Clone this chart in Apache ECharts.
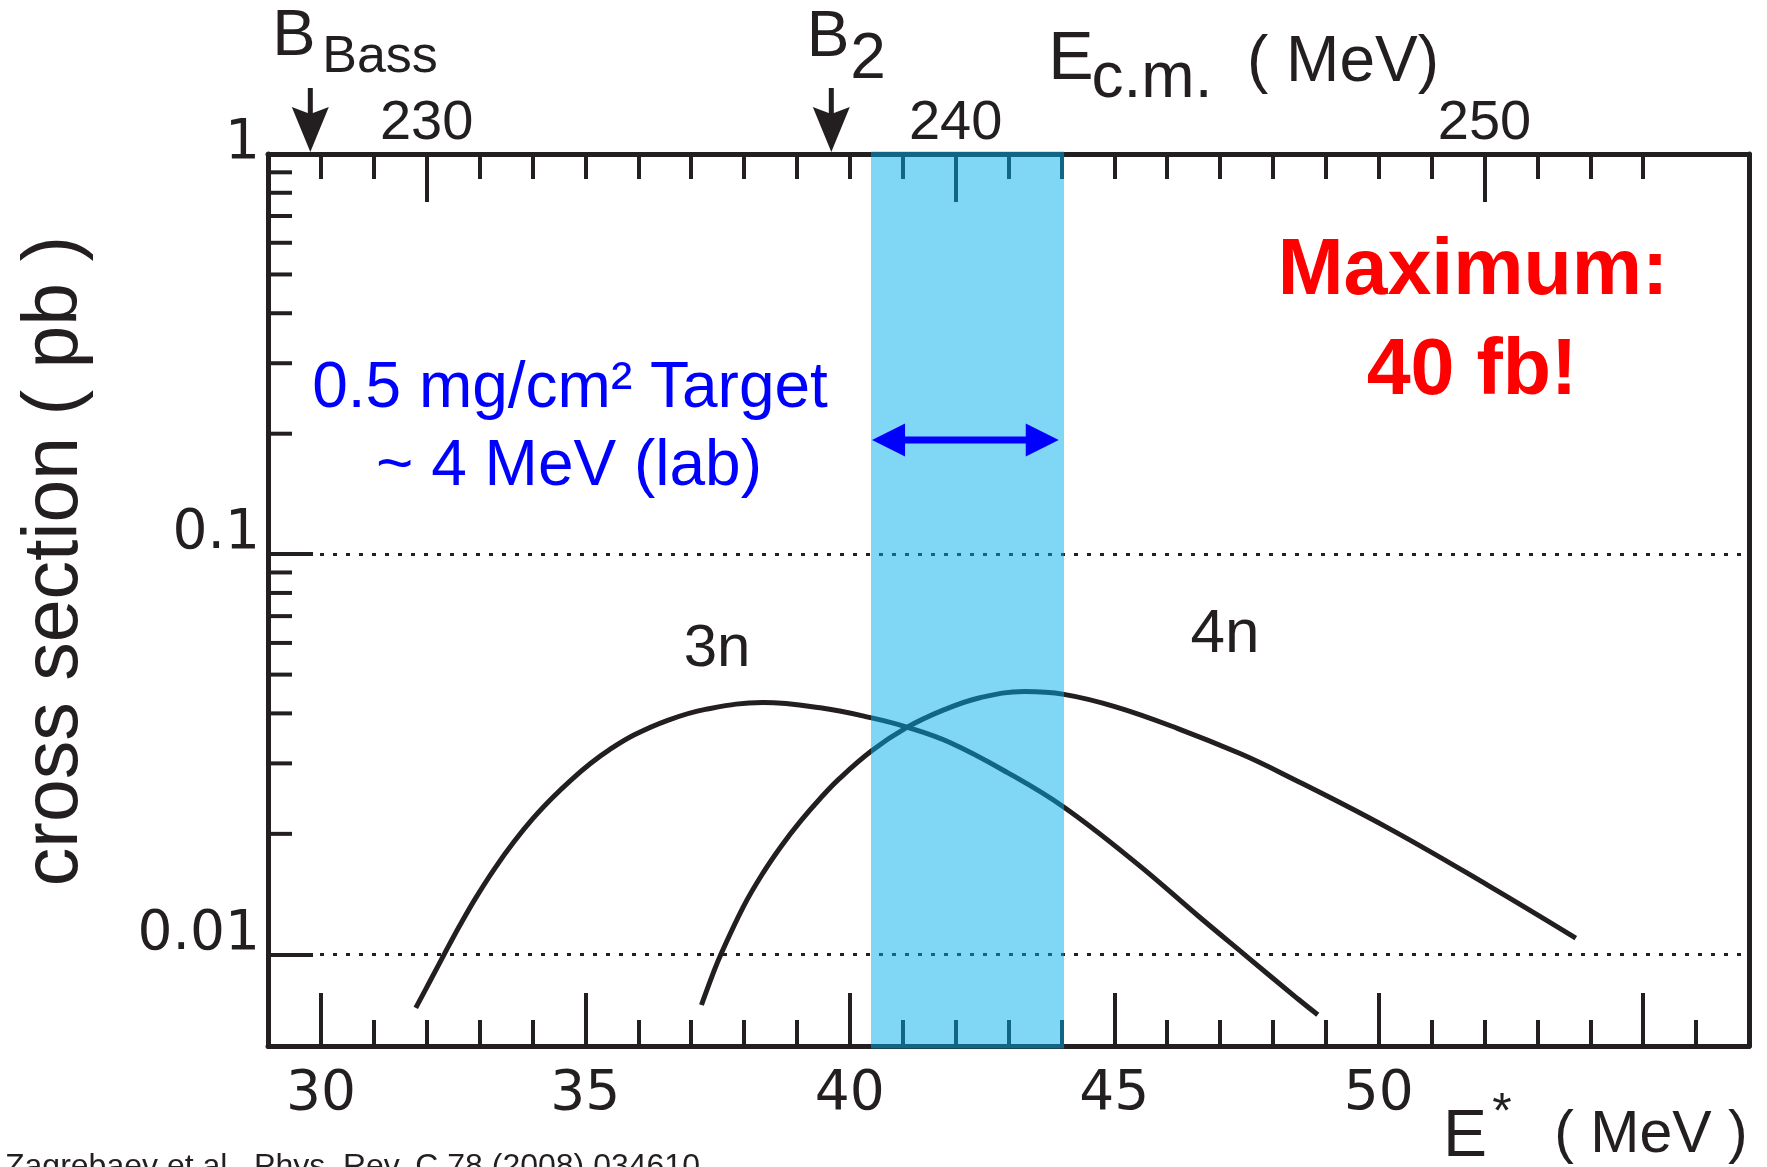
<!DOCTYPE html>
<html><head><meta charset="utf-8">
<script src="https://cdn.jsdelivr.net/npm/echarts@6/dist/echarts.min.js"></script>
<style>html,body{margin:0;padding:0;background:#fff}#c{width:1767px;height:1167px}</style>
</head><body><div id="c"></div>
<script>
// ---------- data ----------
const eStar3n  = [31.794, 32.059, 32.348, 32.636, 32.926, 33.288, 33.650, 34.010, 34.372, 34.734, 35.096, 35.458, 35.927, 36.545, 37.269, 38.355, 39.442, 40.413, 41.061, 41.892, 42.989, 44.043, 45.417, 46.593, 47.456, 48.474, 48.847];
const sigma3n  = [0.00735, 0.00855, 0.01010, 0.01187, 0.01382, 0.01640, 0.01910, 0.02185, 0.02458, 0.02730, 0.02998, 0.03247, 0.03536, 0.03839, 0.04093, 0.04257, 0.04131, 0.03898, 0.03702, 0.03382, 0.02841, 0.02334, 0.01690, 0.01245, 0.01000, 0.00773, 0.00706];
const eStar4n  = [37.195, 37.410, 37.555, 37.991, 38.351, 38.713, 39.076, 39.436, 39.798, 40.413, 41.063, 41.754, 42.459, 43.302, 44.048, 45.026, 46.202, 47.377, 48.163, 50.121, 52.081, 53.725];
const sigma4n  = [0.00747, 0.00892, 0.00995, 0.01318, 0.01591, 0.01871, 0.02158, 0.02448, 0.02744, 0.03226, 0.03680, 0.04069, 0.04377, 0.04535, 0.04462, 0.04153, 0.03666, 0.03175, 0.02836, 0.02088, 0.01483, 0.01098];

const eStarRange = [29, 57];          // bottom axis E* (MeV)
const ecmRange   = [227, 255];        // top axis Ec.m. (MeV)
const sigmaRange = [0.0059, 1];       // cross section (pb)

const bottomMinorTicks = [30,31,32,33,34,35,36,37,38,39,40,41,42,43,44,45,46,47,48,49,50,51,52,53,54,55,56];
const bottomMajorTicks = [30,35,40,45,50,55];
const bottomTickLabels = [30,35,40,45,50];
const topMinorTicks    = [228,229,230,231,232,233,234,235,236,237,238,239,240,241,242,243,244,245,246,247,248,249,250,251,252,253];
const topMajorTicks    = [230,240,250];
const yTickLabels      = ['0.01','0.1','1'];
const yMinorTicks      = [0.02,0.03,0.04,0.05,0.06,0.07,0.08,0.09,0.2,0.3,0.4,0.5,0.6,0.7,0.8,0.9];

const targetBand  = [40.4, 44.05];    // E* window
const bandArrow   = [40.42, 43.95, 0.193];
const barriers    = [227.8, 237.65];  // B_Bass, B_2 in Ec.m.

// ---------- chart ----------
const INK = '#231f20';
const SANS = '"Liberation Sans", Arial, Helvetica, sans-serif';
const WIDE = '"DejaVu Sans", sans-serif';
const chart = echarts.init(document.getElementById('c'), null, {renderer: 'canvas'});

function yLabel(v) {
  for (const s of yTickLabels) {
    if (Math.abs(v - parseFloat(s)) < parseFloat(s) * 1e-3) return s === '1' ? '{top|' + s + '}' : s;
  }
  return '';
}
function txt(x, y, text, font, fill, extra) {
  return Object.assign({type: 'text', x: x, y: y, z: 20,
    style: {text: text, font: font, fill: fill || INK, textAlign: 'center', textVerticalAlign: 'middle'}}, extra || {});
}

const option = {
  backgroundColor: '#ffffff',
  animation: false,
  grid: {left: 268, right: 18, top: 154, bottom: 121, containLabel: false, outerBoundsMode: 'none'},
  xAxis: [
    {type: 'value', position: 'bottom', min: eStarRange[0], max: eStarRange[1],
     axisLine: {show: true, onZero: false, lineStyle: {color: INK, width: 5}},
     axisTick: {show: true, inside: true, length: 26, customValues: bottomMinorTicks, lineStyle: {color: INK, width: 4}},
     axisLabel: {show: false}, splitLine: {show: false}},
    {type: 'value', position: 'bottom', min: eStarRange[0], max: eStarRange[1],
     axisLine: {show: false, onZero: false},
     axisTick: {show: true, inside: true, length: 53, customValues: bottomMajorTicks, lineStyle: {color: INK, width: 4}},
     axisLabel: {show: true, customValues: bottomTickLabels, margin: 29, fontFamily: WIDE, fontSize: 55, color: INK, lineHeight: 40, verticalAlign: 'top'},
     splitLine: {show: false}},
    {type: 'value', position: 'top', min: ecmRange[0], max: ecmRange[1],
     axisLine: {show: true, onZero: false, lineStyle: {color: INK, width: 5}},
     axisTick: {show: true, inside: true, length: 25, customValues: topMinorTicks, lineStyle: {color: INK, width: 4}},
     axisLabel: {show: false}, splitLine: {show: false}},
    {type: 'value', position: 'top', min: ecmRange[0], max: ecmRange[1],
     axisLine: {show: false, onZero: false},
     axisTick: {show: true, inside: true, length: 48, customValues: topMajorTicks, lineStyle: {color: INK, width: 4}},
     axisLabel: {show: true, customValues: topMajorTicks, margin: 10, fontFamily: SANS, fontSize: 56, color: INK, lineHeight: 40, verticalAlign: 'bottom'},
     splitLine: {show: false}}
  ],
  yAxis: [
    {type: 'log', logBase: 10, position: 'left', min: sigmaRange[0], max: sigmaRange[1],
     axisLine: {show: true, onZero: false, lineStyle: {color: INK, width: 5}},
     axisTick: {show: true, inside: true, length: 45, lineStyle: {color: INK, width: 4}},
     axisLabel: {show: true, formatter: yLabel, showMinLabel: false, fontFamily: WIDE, fontSize: 55, color: INK, margin: 8, verticalAlign: 'bottom', lineHeight: 40,
                 rich: {top: {fontFamily: WIDE, fontSize: 55, color: INK, lineHeight: 20}}},
     splitLine: {show: true, lineStyle: {color: INK, width: 3, type: [4, 9]}}},
    {type: 'log', logBase: 10, position: 'right', min: sigmaRange[0], max: sigmaRange[1],
     axisLine: {show: true, onZero: false, lineStyle: {color: INK, width: 5}},
     axisTick: {show: false}, axisLabel: {show: false}, splitLine: {show: false}}
  ],
  series: [
    {name: '3n', type: 'line', xAxisIndex: 0, yAxisIndex: 0, smooth: 0.4, showSymbol: false, z: 3,
     lineStyle: {color: INK, width: 5}, data: eStar3n.map((x, i) => [x, sigma3n[i]])},
    {name: '4n', type: 'line', xAxisIndex: 0, yAxisIndex: 0, smooth: 0.4, showSymbol: false, z: 3,
     lineStyle: {color: INK, width: 5}, data: eStar4n.map((x, i) => [x, sigma4n[i]])},
    {name: 'yMinor', type: 'custom', xAxisIndex: 0, yAxisIndex: 0, z: 2,
     data: yMinorTicks.map(v => [eStarRange[0], v]),
     renderItem: (p, api) => {
       const c = api.coord([api.value(0), api.value(1)]);
       return {type: 'line', shape: {x1: c[0], y1: c[1], x2: c[0] + 24, y2: c[1]}, style: {stroke: INK, lineWidth: 4}};
     }},
    {name: 'band', type: 'custom', xAxisIndex: 0, yAxisIndex: 0, z: 10,
     encode: {x: [0, 2], y: [1, 3]},
     data: [[targetBand[0], sigmaRange[0], targetBand[1], sigmaRange[1]]],
     renderItem: (p, api) => {
       const a = api.coord([api.value(0), api.value(3)]);
       const b = api.coord([api.value(2), api.value(1)]);
       return {type: 'rect', shape: {x: a[0], y: a[1] - 2.5, width: b[0] - a[0], height: b[1] - a[1] + 5},
               style: {fill: 'rgba(0,173,235,0.5)'}};
     }},
    {name: 'bandArrow', type: 'custom', xAxisIndex: 0, yAxisIndex: 0, z: 11,
     encode: {x: [0, 1], y: 2},
     data: [bandArrow],
     renderItem: (p, api) => {
       const l = api.coord([api.value(0), api.value(2)]);
       const r = api.coord([api.value(1), api.value(2)]);
       const y = l[1], x0 = l[0], x1 = r[0], hl = 33, hw = 16.5, sw = 3.5;
       return {type: 'polygon', shape: {points: [
         [x0, y], [x0 + hl, y - hw], [x0 + hl, y - sw], [x1 - hl, y - sw], [x1 - hl, y - hw],
         [x1, y], [x1 - hl, y + hw], [x1 - hl, y + sw], [x0 + hl, y + sw], [x0 + hl, y + hw]]},
         style: {fill: '#0000ff'}};
     }},
    {name: 'barriers', type: 'custom', xAxisIndex: 3, yAxisIndex: 0, z: 11,
     data: barriers.map(v => [v, sigmaRange[1]]),
     renderItem: (p, api) => {
       const t = api.coord([api.value(0), api.value(1)]);
       const x = t[0], ty = t[1] - 2;
       return {type: 'group', children: [
         {type: 'rect', shape: {x: x - 2.5, y: ty - 64, width: 5, height: 28}, style: {fill: INK}},
         {type: 'polygon', shape: {points: [[x, ty], [x - 18.5, ty - 45], [x, ty - 38], [x + 18.5, ty - 45]]}, style: {fill: INK}}
       ]};
     }}
  ],
  graphic: [
    txt(56, 561, 'cross section ( pb )', '77px ' + SANS, INK, {rotation: Math.PI / 2}),
    txt(717, 649, '3n', '60px ' + SANS),
    txt(1225, 635, '4n', '62px ' + SANS),
    txt(570, 389, '0.5 mg/cm² Target', '64px ' + SANS, '#0000ff'),
    txt(569, 467, '~ 4 MeV (lab)', '64px ' + SANS, '#0000ff'),
    txt(1473, 272, 'Maximum:', 'bold 79px ' + SANS, '#ff0000'),
    txt(1472, 372, '40 fb!', 'bold 79px ' + SANS, '#ff0000'),
    txt(294, 37, 'B', '65px ' + SANS),
    txt(380, 58, 'Bass', '52px ' + SANS),
    txt(828, 38, 'B', '64px ' + SANS),
    txt(868, 60, '2', '64px ' + SANS),
    txt(1071, 60, 'E', '68px ' + SANS),
    txt(1152, 79, 'c.m.', '64px ' + SANS),
    txt(1343, 63, '( MeV)', '64px ' + SANS),
    txt(1465, 1138, 'E', '66px ' + SANS),
    txt(1502, 1114, '*', '50px ' + SANS),
    txt(1651, 1136, '( MeV )', '59px ' + SANS),
    {type: 'text', x: 5, y: 1167, z: 20, style: {text: 'Zagrebaev et al., Phys. Rev. C 78 (2008) 034610', font: '32px ' + SANS, fill: INK, textAlign: 'left', textVerticalAlign: 'middle'}}
  ]
};
chart.setOption(option);
</script>
</body></html>
